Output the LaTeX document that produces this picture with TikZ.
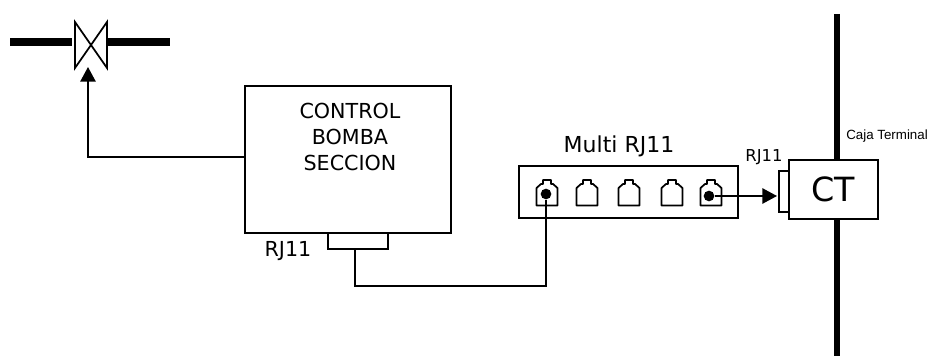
\documentclass[tikz,border=0pt]{standalone}
\usepackage{fontspec}
\setmainfont{DejaVu Sans}
\newfontfamily\capfont{Liberation Sans}
\usetikzlibrary{arrows.meta,calc}
\tikzstyle{block} = [draw=black, line width=1.3pt, fill=white, inner sep=0pt, outer sep=0pt, align=center]
\tikzstyle{label} = [inner sep=0pt, font=\fontsize{15.5}{19.5}\selectfont]
\tikzstyle{wire} = [black, line width=1.3pt]
\tikzstyle{pipe} = [black, line width=6pt]
\tikzstyle{arrow} = [wire, -{Triangle[length=11pt,width=11.5pt]}]
\tikzstyle{dot} = [circle, fill=black, inner sep=0pt, minimum size=8pt]
\tikzset{jack/.pic={
    \draw[wire, line join=round] (-10.5,12.5) -- (10.5,12.5) -- (10.5,-5) -- (6,-9) -- (4,-9) -- (4,-13) -- (-4,-13) -- (-4,-9) -- (-6,-9) -- (-10.5,-5) -- cycle;
}}
\begin{document}
\begin{tikzpicture}[x=0.75pt, y=-0.75pt]
    \useasboundingbox (0,0) rectangle (928,359);
    % linea y valvula
    \coordinate (pipeA) at (10,42);
    \coordinate (pipeB) at (72,42);
    \coordinate (pipeC) at (108,42);
    \coordinate (pipeD) at (170,42);
    \coordinate (valvetip) at (88,67);
    \draw[pipe] (pipeA) -- (pipeB);
    \draw[pipe] (pipeC) -- (pipeD);
    \draw[wire, line join=miter] (75,22) -- (107,68) -- (107,22) -- (75,68) -- cycle;
    % caja terminal
    \coordinate (busT) at (837,14);
    \coordinate (busB) at (837,356);
    \draw[line width=4.5pt] (busT) -- (busB);
    % bloques
    \node[block, minimum width=154.5pt, minimum height=110.25pt] (control) at (348,159.5) {};
    \node[label, align=center] (controltxt) at (350,137) {CONTROL\\BOMBA\\SECCION};
    \node[block, minimum width=45pt, minimum height=12pt] (rjcontrol) at (358,241) {};
    \node[label] (rjcontroltxt) at (288,251) {RJ11};
    \node[block, minimum width=164.25pt, minimum height=39pt] (multi) at (628.5,192) {};
    \node[label, font=\fontsize{16.5}{19.5}\selectfont] (multitxt) at (619,146) {Multi RJ11};
    \node[block, minimum width=66.75pt, minimum height=44.25pt, font=\fontsize{25}{28}\selectfont, text depth=0pt] (ct) at (833.5,189.5) {CT};
    \node[block, minimum width=7.5pt, minimum height=30.75pt] (rjct) at (784,191.5) {};
    \node[label, font=\fontsize{12.3}{14}\selectfont] (rjcttxt) at (764,157) {RJ11};
    \node[label, font=\capfont\fontsize{10}{12}\selectfont, anchor=west] (cajatxt) at (846,136) {Caja Terminal};
    % conectores RJ11
    \foreach \px/\name in {547/jackA,587/jackB,629/jackC,672/jackD,711/jackE} {
        \pic (\name) at (\px,193) {jack};
    }
    \node[dot] (dotA) at (546,194) {};
    \node[dot] (dotE) at (709,196) {};
    % cableado
    \draw[arrow] (control.west |- 0,157) -| (valvetip);
    \draw[wire] (dotA) -- (dotA |- 0,286) -- (355,286) -- (rjcontrol.south -| 355,0);
    \draw[arrow] (dotE) -- ([xshift=-1.5pt]rjct.west |- dotE);
\end{tikzpicture}
\end{document}
